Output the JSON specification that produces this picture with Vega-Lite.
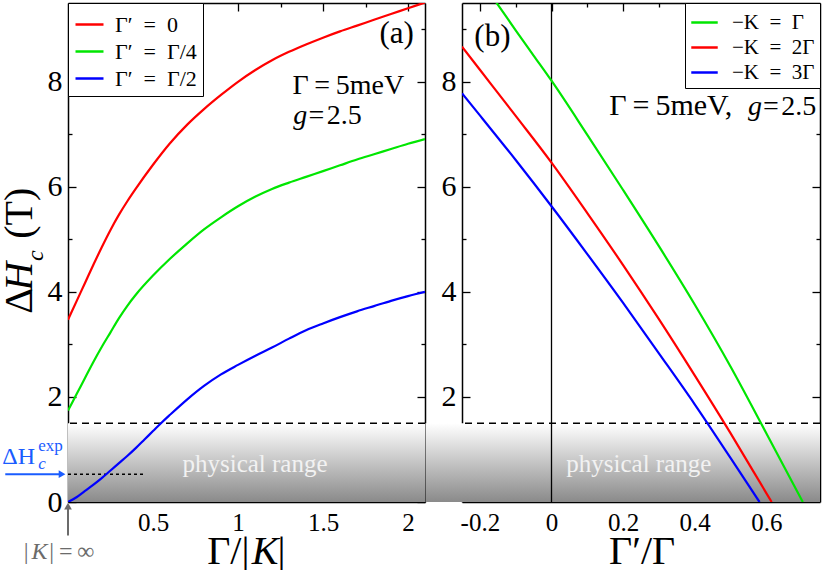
{
  "$schema": "https://vega.github.io/schema/vega-lite/v6.json",
  "background": "white",
  "padding": {"left": 0, "top": 2, "right": 3, "bottom": 0},
  "datasets": {
    "left": [
      {"x": 0, "y": 3.47, "s": "Γ′\u2002=\u20020"}, {"x": 0.05, "y": 3.82, "s": "Γ′\u2002=\u20020"}, {"x": 0.1, "y": 4.17, "s": "Γ′\u2002=\u20020"},
      {"x": 0.15, "y": 4.52, "s": "Γ′\u2002=\u20020"}, {"x": 0.2, "y": 4.86, "s": "Γ′\u2002=\u20020"}, {"x": 0.25, "y": 5.18, "s": "Γ′\u2002=\u20020"},
      {"x": 0.3, "y": 5.47, "s": "Γ′\u2002=\u20020"}, {"x": 0.35, "y": 5.73, "s": "Γ′\u2002=\u20020"}, {"x": 0.4, "y": 5.97, "s": "Γ′\u2002=\u20020"},
      {"x": 0.5, "y": 6.42, "s": "Γ′\u2002=\u20020"}, {"x": 0.6, "y": 6.83, "s": "Γ′\u2002=\u20020"}, {"x": 0.7, "y": 7.18, "s": "Γ′\u2002=\u20020"},
      {"x": 0.8, "y": 7.48, "s": "Γ′\u2002=\u20020"}, {"x": 0.9, "y": 7.75, "s": "Γ′\u2002=\u20020"}, {"x": 1.0, "y": 8.0, "s": "Γ′\u2002=\u20020"},
      {"x": 1.1, "y": 8.22, "s": "Γ′\u2002=\u20020"}, {"x": 1.2, "y": 8.41, "s": "Γ′\u2002=\u20020"}, {"x": 1.3, "y": 8.57, "s": "Γ′\u2002=\u20020"},
      {"x": 1.4, "y": 8.71, "s": "Γ′\u2002=\u20020"}, {"x": 1.5, "y": 8.84, "s": "Γ′\u2002=\u20020"}, {"x": 1.6, "y": 8.96, "s": "Γ′\u2002=\u20020"},
      {"x": 1.7, "y": 9.07, "s": "Γ′\u2002=\u20020"}, {"x": 1.8, "y": 9.18, "s": "Γ′\u2002=\u20020"}, {"x": 1.9, "y": 9.29, "s": "Γ′\u2002=\u20020"},
      {"x": 2.0, "y": 9.4, "s": "Γ′\u2002=\u20020"}, {"x": 2.1, "y": 9.51, "s": "Γ′\u2002=\u20020"},
      {"x": 0, "y": 1.74, "s": "Γ′\u2002=\u2002Γ/4"}, {"x": 0.05, "y": 2.05, "s": "Γ′\u2002=\u2002Γ/4"}, {"x": 0.1, "y": 2.36, "s": "Γ′\u2002=\u2002Γ/4"},
      {"x": 0.15, "y": 2.67, "s": "Γ′\u2002=\u2002Γ/4"}, {"x": 0.2, "y": 2.96, "s": "Γ′\u2002=\u2002Γ/4"}, {"x": 0.25, "y": 3.23, "s": "Γ′\u2002=\u2002Γ/4"},
      {"x": 0.3, "y": 3.5, "s": "Γ′\u2002=\u2002Γ/4"}, {"x": 0.35, "y": 3.74, "s": "Γ′\u2002=\u2002Γ/4"}, {"x": 0.4, "y": 3.95, "s": "Γ′\u2002=\u2002Γ/4"},
      {"x": 0.5, "y": 4.31, "s": "Γ′\u2002=\u2002Γ/4"}, {"x": 0.6, "y": 4.63, "s": "Γ′\u2002=\u2002Γ/4"}, {"x": 0.7, "y": 4.92, "s": "Γ′\u2002=\u2002Γ/4"},
      {"x": 0.8, "y": 5.19, "s": "Γ′\u2002=\u2002Γ/4"}, {"x": 0.9, "y": 5.42, "s": "Γ′\u2002=\u2002Γ/4"}, {"x": 1.0, "y": 5.63, "s": "Γ′\u2002=\u2002Γ/4"},
      {"x": 1.1, "y": 5.81, "s": "Γ′\u2002=\u2002Γ/4"}, {"x": 1.2, "y": 5.96, "s": "Γ′\u2002=\u2002Γ/4"}, {"x": 1.3, "y": 6.08, "s": "Γ′\u2002=\u2002Γ/4"},
      {"x": 1.4, "y": 6.19, "s": "Γ′\u2002=\u2002Γ/4"}, {"x": 1.5, "y": 6.3, "s": "Γ′\u2002=\u2002Γ/4"}, {"x": 1.6, "y": 6.41, "s": "Γ′\u2002=\u2002Γ/4"},
      {"x": 1.7, "y": 6.52, "s": "Γ′\u2002=\u2002Γ/4"}, {"x": 1.8, "y": 6.62, "s": "Γ′\u2002=\u2002Γ/4"}, {"x": 1.9, "y": 6.72, "s": "Γ′\u2002=\u2002Γ/4"},
      {"x": 2.0, "y": 6.82, "s": "Γ′\u2002=\u2002Γ/4"}, {"x": 2.1, "y": 6.91, "s": "Γ′\u2002=\u2002Γ/4"},
      {"x": 0, "y": 0, "s": "Γ′\u2002=\u2002Γ/2"}, {"x": 0.05, "y": 0.09, "s": "Γ′\u2002=\u2002Γ/2"}, {"x": 0.1, "y": 0.21, "s": "Γ′\u2002=\u2002Γ/2"},
      {"x": 0.15, "y": 0.33, "s": "Γ′\u2002=\u2002Γ/2"}, {"x": 0.2, "y": 0.46, "s": "Γ′\u2002=\u2002Γ/2"}, {"x": 0.25, "y": 0.6, "s": "Γ′\u2002=\u2002Γ/2"},
      {"x": 0.3, "y": 0.74, "s": "Γ′\u2002=\u2002Γ/2"}, {"x": 0.35, "y": 0.88, "s": "Γ′\u2002=\u2002Γ/2"}, {"x": 0.4, "y": 1.03, "s": "Γ′\u2002=\u2002Γ/2"},
      {"x": 0.45, "y": 1.19, "s": "Γ′\u2002=\u2002Γ/2"}, {"x": 0.5, "y": 1.35, "s": "Γ′\u2002=\u2002Γ/2"}, {"x": 0.55, "y": 1.51, "s": "Γ′\u2002=\u2002Γ/2"},
      {"x": 0.6, "y": 1.66, "s": "Γ′\u2002=\u2002Γ/2"}, {"x": 0.7, "y": 1.95, "s": "Γ′\u2002=\u2002Γ/2"}, {"x": 0.8, "y": 2.21, "s": "Γ′\u2002=\u2002Γ/2"},
      {"x": 0.9, "y": 2.43, "s": "Γ′\u2002=\u2002Γ/2"}, {"x": 1.0, "y": 2.61, "s": "Γ′\u2002=\u2002Γ/2"}, {"x": 1.1, "y": 2.78, "s": "Γ′\u2002=\u2002Γ/2"},
      {"x": 1.2, "y": 2.94, "s": "Γ′\u2002=\u2002Γ/2"}, {"x": 1.3, "y": 3.11, "s": "Γ′\u2002=\u2002Γ/2"}, {"x": 1.4, "y": 3.27, "s": "Γ′\u2002=\u2002Γ/2"},
      {"x": 1.5, "y": 3.4, "s": "Γ′\u2002=\u2002Γ/2"}, {"x": 1.6, "y": 3.52, "s": "Γ′\u2002=\u2002Γ/2"}, {"x": 1.7, "y": 3.63, "s": "Γ′\u2002=\u2002Γ/2"},
      {"x": 1.8, "y": 3.73, "s": "Γ′\u2002=\u2002Γ/2"}, {"x": 1.9, "y": 3.83, "s": "Γ′\u2002=\u2002Γ/2"}, {"x": 2.0, "y": 3.92, "s": "Γ′\u2002=\u2002Γ/2"},
      {"x": 2.1, "y": 4.0, "s": "Γ′\u2002=\u2002Γ/2"}
    ],
    "right": [
      {"x": -0.25, "y": 10.43, "s": "−K\u2002=\u2002Γ"}, {"x": -0.2, "y": 9.95, "s": "−K\u2002=\u2002Γ"}, {"x": -0.15, "y": 9.47, "s": "−K\u2002=\u2002Γ"},
      {"x": -0.1, "y": 8.98, "s": "−K\u2002=\u2002Γ"}, {"x": -0.05, "y": 8.5, "s": "−K\u2002=\u2002Γ"}, {"x": 0, "y": 8.02, "s": "−K\u2002=\u2002Γ"},
      {"x": 0.1, "y": 6.99, "s": "−K\u2002=\u2002Γ"}, {"x": 0.2, "y": 5.94, "s": "−K\u2002=\u2002Γ"}, {"x": 0.3, "y": 4.87, "s": "−K\u2002=\u2002Γ"},
      {"x": 0.4, "y": 3.76, "s": "−K\u2002=\u2002Γ"}, {"x": 0.5, "y": 2.58, "s": "−K\u2002=\u2002Γ"}, {"x": 0.6, "y": 1.31, "s": "−K\u2002=\u2002Γ"},
      {"x": 0.702, "y": 0, "s": "−K\u2002=\u2002Γ"},
      {"x": -0.25, "y": 8.67, "s": "−K\u2002=\u20022Γ"}, {"x": -0.2, "y": 8.23, "s": "−K\u2002=\u20022Γ"}, {"x": -0.1, "y": 7.35, "s": "−K\u2002=\u20022Γ"},
      {"x": 0, "y": 6.46, "s": "−K\u2002=\u20022Γ"}, {"x": 0.1, "y": 5.5, "s": "−K\u2002=\u20022Γ"}, {"x": 0.2, "y": 4.51, "s": "−K\u2002=\u20022Γ"},
      {"x": 0.3, "y": 3.48, "s": "−K\u2002=\u20022Γ"}, {"x": 0.4, "y": 2.41, "s": "−K\u2002=\u20022Γ"}, {"x": 0.5, "y": 1.31, "s": "−K\u2002=\u20022Γ"},
      {"x": 0.6, "y": 0.17, "s": "−K\u2002=\u20022Γ"}, {"x": 0.615, "y": 0, "s": "−K\u2002=\u20022Γ"},
      {"x": -0.25, "y": 7.78, "s": "−K\u2002=\u20023Γ"}, {"x": -0.2, "y": 7.36, "s": "−K\u2002=\u20023Γ"}, {"x": -0.1, "y": 6.51, "s": "−K\u2002=\u20023Γ"},
      {"x": 0, "y": 5.63, "s": "−K\u2002=\u20023Γ"}, {"x": 0.1, "y": 4.72, "s": "−K\u2002=\u20023Γ"}, {"x": 0.2, "y": 3.79, "s": "−K\u2002=\u20023Γ"},
      {"x": 0.3, "y": 2.83, "s": "−K\u2002=\u20023Γ"}, {"x": 0.4, "y": 1.86, "s": "−K\u2002=\u20023Γ"}, {"x": 0.5, "y": 0.84, "s": "−K\u2002=\u20023Γ"},
      {"x": 0.581, "y": 0, "s": "−K\u2002=\u20023Γ"}
    ]
  },
  "config": {
    "font": "Liberation Serif",
    "view": {"stroke": null},
    "style": {"guide-label": {"font": "Liberation Serif", "fill": "black"}},
    "axis": {
      "grid": false, "zindex": 1, "domainColor": "black", "domainWidth": 1.5,
      "tickColor": "black", "tickWidth": 1.3, "labelFont": "Liberation Serif",
      "labelColor": "black", "labelFlush": false, "labelOverlap": false
    },
    "legend": {
      "title": null, "offset": 0, "strokeColor": "black", "fillColor": "white",
      "cornerRadius": 0, "symbolType": "stroke", "symbolStrokeWidth": 2.5,
      "labelFont": "Liberation Serif", "labelColor": "black"
    },
    "text": {"font": "Liberation Serif"}
  },
  "spacing": 37,
  "bounds": "flush",
  "resolve": {"scale": {"color": "independent"}, "legend": {"color": "independent"}},
  "hconcat": [
    {
      "width": 357,
      "height": 499,
      "resolve": {"axis": {"x": "independent", "y": "independent"}},
      "layer": [
        {
          "data": {"values": [{}]},
          "mark": {"type": "rect", "fill": {"gradient": "linear", "x1": 0, "y1": 0, "x2": 0, "y2": 1, "stops": [{"offset": 0, "color": "#ffffff"}, {"offset": 1, "color": "#8a8a8a"}]}},
          "encoding": {
            "x": {"datum": 0, "type": "quantitative", "scale": {"domain": [0, 2.1], "nice": false, "zero": false},
              "axis": {"orient": "bottom", "title": null, "values": [0.25, 0.5, 0.75, 1, 1.25, 1.5, 1.75, 2],
                "tickSize": {"condition": {"test": "datum.value % 0.5 == 0", "value": -8}, "value": -4},
                "labelExpr": "datum.value % 0.5 == 0 ? toString(datum.value) : ''", "labelFont": "Liberation Serif", "labelFontSize": 25, "labelPadding": 16}},
            "x2": {"datum": 2.1},
            "y": {"datum": 0, "type": "quantitative", "scale": {"domain": [0, 9.5], "nice": false, "zero": false},
              "axis": {"orient": "left", "title": null, "values": [0, 1, 2, 3, 4, 5, 6, 7, 8, 9],
                "tickSize": {"condition": {"test": "datum.value % 2 == 0", "value": -8}, "value": -4},
                "labelExpr": "datum.value % 2 == 0 ? toString(datum.value) : ''", "labelFont": "Liberation Serif", "labelFontSize": 30, "labelPadding": 14}},
            "y2": {"datum": 1.5}
          }
        },
        {
          "data": {"values": [{}]},
          "mark": {"type": "rule", "strokeDash": [7, 5], "strokeWidth": 1.5, "color": "black"},
          "encoding": {"y": {"datum": 1.5, "type": "quantitative", "axis": null}}
        },
        {
          "data": {"values": [{}]},
          "mark": {"type": "rule", "strokeDash": [3, 3], "strokeWidth": 1.5, "color": "black"},
          "encoding": {"x": {"datum": 0, "type": "quantitative", "axis": null}, "x2": {"datum": 0.445}, "y": {"datum": 0.53, "type": "quantitative", "axis": null}}
        },
        {
          "data": {"name": "left"},
          "mark": {"type": "line", "clip": true, "strokeWidth": 2.2, "interpolate": "monotone"},
          "encoding": {
            "x": {"field": "x", "type": "quantitative",
              "axis": {"orient": "top", "title": null, "labels": false, "values": [0.25, 0.5, 0.75, 1, 1.25, 1.5, 1.75, 2],
                "tickSize": {"condition": {"test": "datum.value % 0.5 == 0", "value": -8}, "value": -4}}},
            "y": {"field": "y", "type": "quantitative",
              "axis": {"orient": "right", "title": null, "labels": false, "values": [0, 1, 2, 3, 4, 5, 6, 7, 8, 9],
                "tickSize": {"condition": {"test": "datum.value % 2 == 0", "value": -8}, "value": -4}}},
            "color": {"field": "s", "type": "nominal",
              "scale": {"domain": ["Γ′\u2002=\u20020", "Γ′\u2002=\u2002Γ/4", "Γ′\u2002=\u2002Γ/2"], "range": ["#ff0000", "#00e600", "#0000ff"]},
              "legend": {"orient": "top-left", "padding": 6, "labelFont": "Liberation Serif", "labelFontSize": 22, "labelOffset": 10, "rowPadding": 0, "symbolSize": 784}}
          }
        },
        {
          "data": {"values": [{}]},
          "mark": {"type": "text", "text": "physical range", "fontSize": 25, "color": "#f2f2f2", "align": "center", "baseline": "alphabetic"},
          "encoding": {"x": {"datum": 1.1, "type": "quantitative", "axis": null}, "y": {"datum": 0.58, "type": "quantitative", "axis": null}}
        },
        {
          "data": {"values": [{}]},
          "mark": {"type": "text", "text": "(a)", "fontSize": 31, "align": "center", "baseline": "alphabetic"},
          "encoding": {"x": {"datum": 1.933, "type": "quantitative", "axis": null}, "y": {"datum": 8.73, "type": "quantitative", "axis": null}}
        },
        {
          "data": {"values": [{}]},
          "mark": {"type": "text", "text": "Γ\u2009=\u20095meV", "fontSize": 28, "align": "left", "baseline": "alphabetic"},
          "encoding": {"x": {"datum": 1.321, "type": "quantitative", "axis": null}, "y": {"datum": 7.77, "type": "quantitative", "axis": null}}
        },
        {
          "data": {"values": [{}]},
          "mark": {"type": "text", "text": "g", "fontSize": 28, "fontStyle": "italic", "align": "left", "baseline": "alphabetic"},
          "encoding": {"x": {"datum": 1.325, "type": "quantitative", "axis": null}, "y": {"datum": 7.2, "type": "quantitative", "axis": null}}
        },
        {
          "data": {"values": [{}]},
          "mark": {"type": "text", "text": "=\u200a2.5", "fontSize": 28, "align": "left", "baseline": "alphabetic"},
          "encoding": {"x": {"datum": 1.415, "type": "quantitative", "axis": null}, "y": {"datum": 7.2, "type": "quantitative", "axis": null}}
        },
        {
          "data": {"values": [{}]},
          "mark": {"type": "text", "text": "Δ", "fontSize": 40, "angle": 270, "align": "left", "baseline": "alphabetic"},
          "encoding": {"x": {"datum": -0.209, "type": "quantitative", "axis": null}, "y": {"datum": 3.585, "type": "quantitative", "axis": null}}
        },
        {
          "data": {"values": [{}]},
          "mark": {"type": "text", "text": "H", "fontSize": 40, "fontStyle": "italic", "angle": 270, "align": "left", "baseline": "alphabetic"},
          "encoding": {"x": {"datum": -0.209, "type": "quantitative", "axis": null}, "y": {"datum": 4.02, "type": "quantitative", "axis": null}}
        },
        {
          "data": {"values": [{}]},
          "mark": {"type": "text", "text": "c", "fontSize": 24, "fontStyle": "italic", "angle": 270, "align": "left", "baseline": "alphabetic"},
          "encoding": {"x": {"datum": -0.146, "type": "quantitative", "axis": null}, "y": {"datum": 4.59, "type": "quantitative", "axis": null}}
        },
        {
          "data": {"values": [{}]},
          "mark": {"type": "text", "text": "(T)", "fontSize": 40, "angle": 270, "align": "left", "baseline": "alphabetic"},
          "encoding": {"x": {"datum": -0.209, "type": "quantitative", "axis": null}, "y": {"datum": 5.01, "type": "quantitative", "axis": null}}
        },
        {
          "data": {"values": [{}]},
          "mark": {"type": "text", "text": "ΔH", "fontSize": 24, "color": "#1a5cff", "align": "left", "baseline": "alphabetic"},
          "encoding": {"x": {"datum": -0.387, "type": "quantitative", "axis": null}, "y": {"datum": 0.728, "type": "quantitative", "axis": null}}
        },
        {
          "data": {"values": [{}]},
          "mark": {"type": "text", "text": "exp", "fontSize": 17, "color": "#1a5cff", "align": "left", "baseline": "alphabetic"},
          "encoding": {"x": {"datum": -0.175, "type": "quantitative", "axis": null}, "y": {"datum": 0.974, "type": "quantitative", "axis": null}}
        },
        {
          "data": {"values": [{}]},
          "mark": {"type": "text", "text": "c", "fontSize": 17, "fontStyle": "italic", "color": "#1a5cff", "align": "left", "baseline": "alphabetic"},
          "encoding": {"x": {"datum": -0.175, "type": "quantitative", "axis": null}, "y": {"datum": 0.633, "type": "quantitative", "axis": null}}
        },
        {
          "data": {"values": [{}]},
          "mark": {"type": "rule", "color": "#1a5cff", "strokeWidth": 2},
          "encoding": {"x": {"datum": -0.369, "type": "quantitative", "axis": null}, "x2": {"datum": -0.04}, "y": {"datum": 0.53, "type": "quantitative", "axis": null}}
        },
        {
          "data": {"values": [{}]},
          "mark": {"type": "point", "shape": "triangle-right", "filled": true, "size": 60, "color": "#1a5cff", "opacity": 1},
          "encoding": {"x": {"datum": -0.035, "type": "quantitative", "axis": null}, "y": {"datum": 0.53, "type": "quantitative", "axis": null}}
        },
        {
          "data": {"values": [{}]},
          "mark": {"type": "rule", "color": "#6b6b6b", "strokeWidth": 2},
          "encoding": {"x": {"datum": 0, "type": "quantitative", "axis": null}, "y": {"datum": -0.64, "type": "quantitative", "axis": null}, "y2": {"datum": -0.09}}
        },
        {
          "data": {"values": [{}]},
          "mark": {"type": "point", "shape": "triangle-up", "filled": true, "size": 60, "color": "#6b6b6b", "opacity": 1},
          "encoding": {"x": {"datum": 0, "type": "quantitative", "axis": null}, "y": {"datum": -0.08, "type": "quantitative", "axis": null}}
        },
        {
          "data": {"values": [{}]},
          "mark": {"type": "text", "text": "|", "fontSize": 24, "color": "#6b6b6b", "align": "left", "baseline": "alphabetic"},
          "encoding": {"x": {"datum": -0.261, "type": "quantitative", "axis": null}, "y": {"datum": -1.08, "type": "quantitative", "axis": null}}
        },
        {
          "data": {"values": [{}]},
          "mark": {"type": "text", "text": "K", "fontSize": 24, "fontStyle": "italic", "color": "#6b6b6b", "align": "left", "baseline": "alphabetic"},
          "encoding": {"x": {"datum": -0.214, "type": "quantitative", "axis": null}, "y": {"datum": -1.08, "type": "quantitative", "axis": null}}
        },
        {
          "data": {"values": [{}]},
          "mark": {"type": "text", "text": "|\u2009=\u2009∞", "fontSize": 24, "color": "#6b6b6b", "align": "left", "baseline": "alphabetic"},
          "encoding": {"x": {"datum": -0.11, "type": "quantitative", "axis": null}, "y": {"datum": -1.08, "type": "quantitative", "axis": null}}
        },
        {
          "data": {"values": [{}]},
          "mark": {"type": "text", "text": "Γ/|", "fontSize": 40, "align": "left", "baseline": "alphabetic"},
          "encoding": {"x": {"datum": 0.819, "type": "quantitative", "axis": null}, "y": {"datum": -1.185, "type": "quantitative", "axis": null}}
        },
        {
          "data": {"values": [{}]},
          "mark": {"type": "text", "text": "K", "fontSize": 40, "fontStyle": "italic", "align": "left", "baseline": "alphabetic"},
          "encoding": {"x": {"datum": 1.081, "type": "quantitative", "axis": null}, "y": {"datum": -1.185, "type": "quantitative", "axis": null}}
        },
        {
          "data": {"values": [{}]},
          "mark": {"type": "text", "text": "|", "fontSize": 40, "align": "left", "baseline": "alphabetic"},
          "encoding": {"x": {"datum": 1.233, "type": "quantitative", "axis": null}, "y": {"datum": -1.185, "type": "quantitative", "axis": null}}
        }
      ]
    },
    {
      "width": 358,
      "height": 499,
      "resolve": {"axis": {"x": "independent", "y": "independent"}},
      "layer": [
        {
          "data": {"values": [{}]},
          "mark": {"type": "rect", "fill": {"gradient": "linear", "x1": 0, "y1": 0, "x2": 0, "y2": 1, "stops": [{"offset": 0, "color": "#ffffff"}, {"offset": 1, "color": "#8a8a8a"}]}},
          "encoding": {
            "x": {"datum": -0.352, "type": "quantitative", "scale": {"domain": [-0.25, 0.75], "nice": false, "zero": false},
              "axis": {"orient": "bottom", "title": null, "values": [-0.2, -0.1, 0, 0.1, 0.2, 0.3, 0.4, 0.5, 0.6, 0.7],
                "tickSize": {"condition": {"test": "abs(round(datum.value * 10)) % 2 == 0", "value": -8}, "value": -4},
                "labelExpr": "abs(round(datum.value * 10)) % 2 == 0 ? toString(datum.value) : ''", "labelFont": "Liberation Serif", "labelFontSize": 25, "labelPadding": 16}},
            "x2": {"datum": 0.75},
            "y": {"datum": 0, "type": "quantitative", "scale": {"domain": [0, 9.5], "nice": false, "zero": false},
              "axis": {"orient": "left", "title": null, "values": [1, 2, 3, 4, 5, 6, 7, 8, 9],
                "tickSize": {"condition": {"test": "datum.value % 2 == 0", "value": -8}, "value": -4},
                "labelExpr": "datum.value % 2 == 0 ? toString(datum.value) : ''", "labelFont": "Liberation Serif", "labelFontSize": 30, "labelPadding": 14}},
            "y2": {"datum": 1.5}
          }
        },
        {
          "data": {"values": [{}]},
          "mark": {"type": "rule", "strokeDash": [7, 5], "strokeWidth": 1.5, "color": "black"},
          "encoding": {"y": {"datum": 1.5, "type": "quantitative", "axis": null}}
        },
        {
          "data": {"values": [{}]},
          "mark": {"type": "rule", "strokeWidth": 1.3, "color": "black"},
          "encoding": {"x": {"datum": 0, "type": "quantitative", "axis": null}}
        },
        {
          "data": {"name": "right"},
          "mark": {"type": "line", "clip": true, "strokeWidth": 2.2, "interpolate": "monotone"},
          "encoding": {
            "x": {"field": "x", "type": "quantitative",
              "axis": {"orient": "top", "title": null, "labels": false, "values": [-0.2, -0.1, 0, 0.1, 0.2, 0.3, 0.4, 0.5, 0.6, 0.7],
                "tickSize": {"condition": {"test": "abs(round(datum.value * 10)) % 2 == 0", "value": -8}, "value": -4}}},
            "y": {"field": "y", "type": "quantitative",
              "axis": {"orient": "right", "title": null, "labels": false, "values": [1, 2, 3, 4, 5, 6, 7, 8, 9],
                "tickSize": {"condition": {"test": "datum.value % 2 == 0", "value": -8}, "value": -4}}},
            "color": {"field": "s", "type": "nominal",
              "scale": {"domain": ["−K\u2002=\u2002Γ", "−K\u2002=\u20022Γ", "−K\u2002=\u20023Γ"], "range": ["#00e600", "#ff0000", "#0000ff"]},
              "legend": {"orient": "top-right", "padding": 5, "labelFont": "Liberation Serif", "labelFontSize": 21, "labelOffset": 13, "rowPadding": 0, "symbolSize": 700}}
          }
        },
        {
          "data": {"values": [{}]},
          "mark": {"type": "text", "text": "physical range", "fontSize": 25, "color": "#f2f2f2", "align": "center", "baseline": "alphabetic"},
          "encoding": {"x": {"datum": 0.244, "type": "quantitative", "axis": null}, "y": {"datum": 0.58, "type": "quantitative", "axis": null}}
        },
        {
          "data": {"values": [{}]},
          "mark": {"type": "text", "text": "(b)", "fontSize": 31, "align": "center", "baseline": "alphabetic"},
          "encoding": {"x": {"datum": -0.165, "type": "quantitative", "axis": null}, "y": {"datum": 8.69, "type": "quantitative", "axis": null}}
        },
        {
          "data": {"values": [{}]},
          "mark": {"type": "text", "text": "Γ\u2009=\u20095meV,", "fontSize": 30, "align": "left", "baseline": "alphabetic"},
          "encoding": {"x": {"datum": 0.161, "type": "quantitative", "axis": null}, "y": {"datum": 7.36, "type": "quantitative", "axis": null}}
        },
        {
          "data": {"values": [{}]},
          "mark": {"type": "text", "text": "g", "fontSize": 28, "fontStyle": "italic", "align": "left", "baseline": "alphabetic"},
          "encoding": {"x": {"datum": 0.549, "type": "quantitative", "axis": null}, "y": {"datum": 7.36, "type": "quantitative", "axis": null}}
        },
        {
          "data": {"values": [{}]},
          "mark": {"type": "text", "text": "=\u200a2.5", "fontSize": 28, "align": "left", "baseline": "alphabetic"},
          "encoding": {"x": {"datum": 0.591, "type": "quantitative", "axis": null}, "y": {"datum": 7.36, "type": "quantitative", "axis": null}}
        },
        {
          "data": {"values": [{}]},
          "mark": {"type": "text", "text": "Γ′/Γ", "fontSize": 40, "align": "center", "baseline": "alphabetic"},
          "encoding": {"x": {"datum": 0.253, "type": "quantitative", "axis": null}, "y": {"datum": -1.185, "type": "quantitative", "axis": null}}
        }
      ]
    }
  ]
}
